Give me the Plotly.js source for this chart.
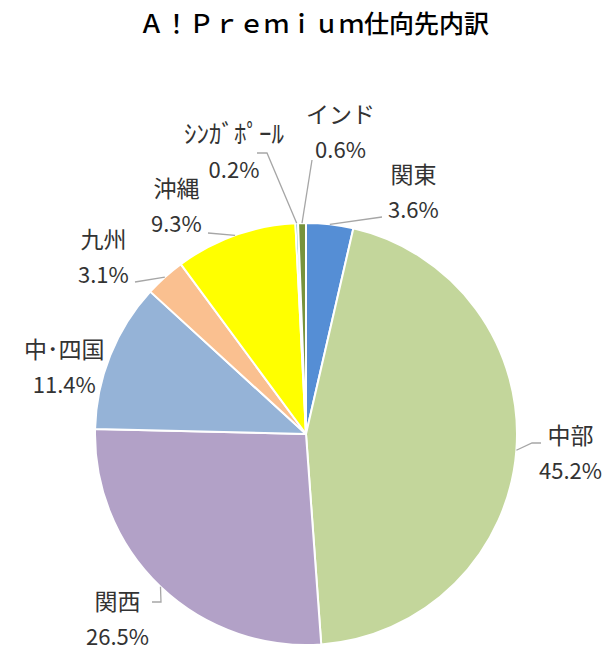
<!DOCTYPE html>
<html>
<head>
<meta charset="utf-8">
<script src="https://cdn.plot.ly/plotly-3.0.1.min.js"></script>
<style>html,body{margin:0;padding:0;background:#fff;}#chart{width:607px;height:646px;}</style>
</head>
<body>
<div id="chart"></div>
<script>
// ---- data ----
const categories = ['関東', '中部', '関西', '中･四国', '九州', '沖縄', 'ｼﾝｶﾞﾎﾟｰﾙ', 'インド'];
const shares = [3.6, 45.2, 26.5, 11.4, 3.1, 9.3, 0.2, 0.6];
const sliceColors = ['#558ED5', '#C3D69B', '#B2A1C7', '#95B3D7', '#FAC090', '#FFFF00', '#4BACC6', '#77933C'];
const chartTitle = 'Ａ！Ｐｒｅｍｉｕｍ仕向先内訳';

// ---- layout constants (pixels) ----
const W = 607, H = 646;
const CX = 306, CY = 434, R = 211;
// label centres
const labelPos = [[413, 190], [570, 451], [117, 617], [64, 365], [103, 255], [176, 204], [234, 149], [340, 130]];
// leader-line points on label side (from pie edge outward), null = no line
const leaderPts = [
  [[382, 217]],
  [[532, 443], [541, 443]],
  [[161, 602], [152, 602]],
  null,
  [[135, 282]],
  [[208, 233]],
  [[267, 153], [257, 153]],
  [[312, 160]]
];
const labelFontPx = [23, 23, 23, 23, 23, 23, 25, 23];

const px = x => x / W;
const py = y => 1 - y / H;

const total = shares.reduce((a, b) => a + b, 0);
let cum = 0;
const shapes = [];
const annotations = [];
shares.forEach((v, i) => {
  const mid = (cum + v / 2) / total * 2 * Math.PI;
  cum += v;
  const ex = CX + R * Math.sin(mid);
  const ey = CY - R * Math.cos(mid);
  if (leaderPts[i]) {
    let d = 'M' + px(ex) + ',' + py(ey);
    leaderPts[i].forEach(p => { d += ' L' + px(p[0]) + ',' + py(p[1]); });
    shapes.push({type: 'path', xref: 'paper', yref: 'paper', path: d,
      line: {color: '#A6A6A6', width: 1.3}});
  }
  annotations.push({
    xref: 'paper', yref: 'paper', x: px(labelPos[i][0]), y: py(labelPos[i][1]),
    xanchor: 'center', yanchor: 'middle', showarrow: false,
    text: '<span style="font-size:' + labelFontPx[i] + 'px">' + categories[i] + '</span><br><span style="font-size:22px">' + v.toFixed(1) + '%</span>',
    font: {family: 'Noto Sans CJK JP, sans-serif', size: 27, color: '#333333'}
  });
});

const trace = {
  type: 'pie',
  labels: categories,
  values: shares,
  sort: false,
  direction: 'clockwise',
  rotation: 0,
  textinfo: 'none',
  textposition: 'none',
  hoverinfo: 'label+percent',
  marker: {colors: sliceColors, line: {color: '#FFFFFF', width: 2}},
  domain: {x: [px(CX - R), px(CX + R)], y: [py(CY + R), py(CY - R)]},
  showlegend: false
};

const layout = {
  width: W, height: H,
  margin: {l: 0, r: 0, t: 0, b: 0},
  paper_bgcolor: '#FFFFFF',
  showlegend: false,
  title: {text: chartTitle, x: px(314), xanchor: 'center', xref: 'paper',
    y: py(24), yanchor: 'middle', yref: 'paper',
    font: {family: 'Noto Sans CJK JP, sans-serif', size: 25, color: '#000000', weight: 500}},
  shapes: shapes,
  annotations: annotations
};

Plotly.newPlot('chart', [trace], layout, {displayModeBar: false, staticPlot: true});
</script>
</body>
</html>
